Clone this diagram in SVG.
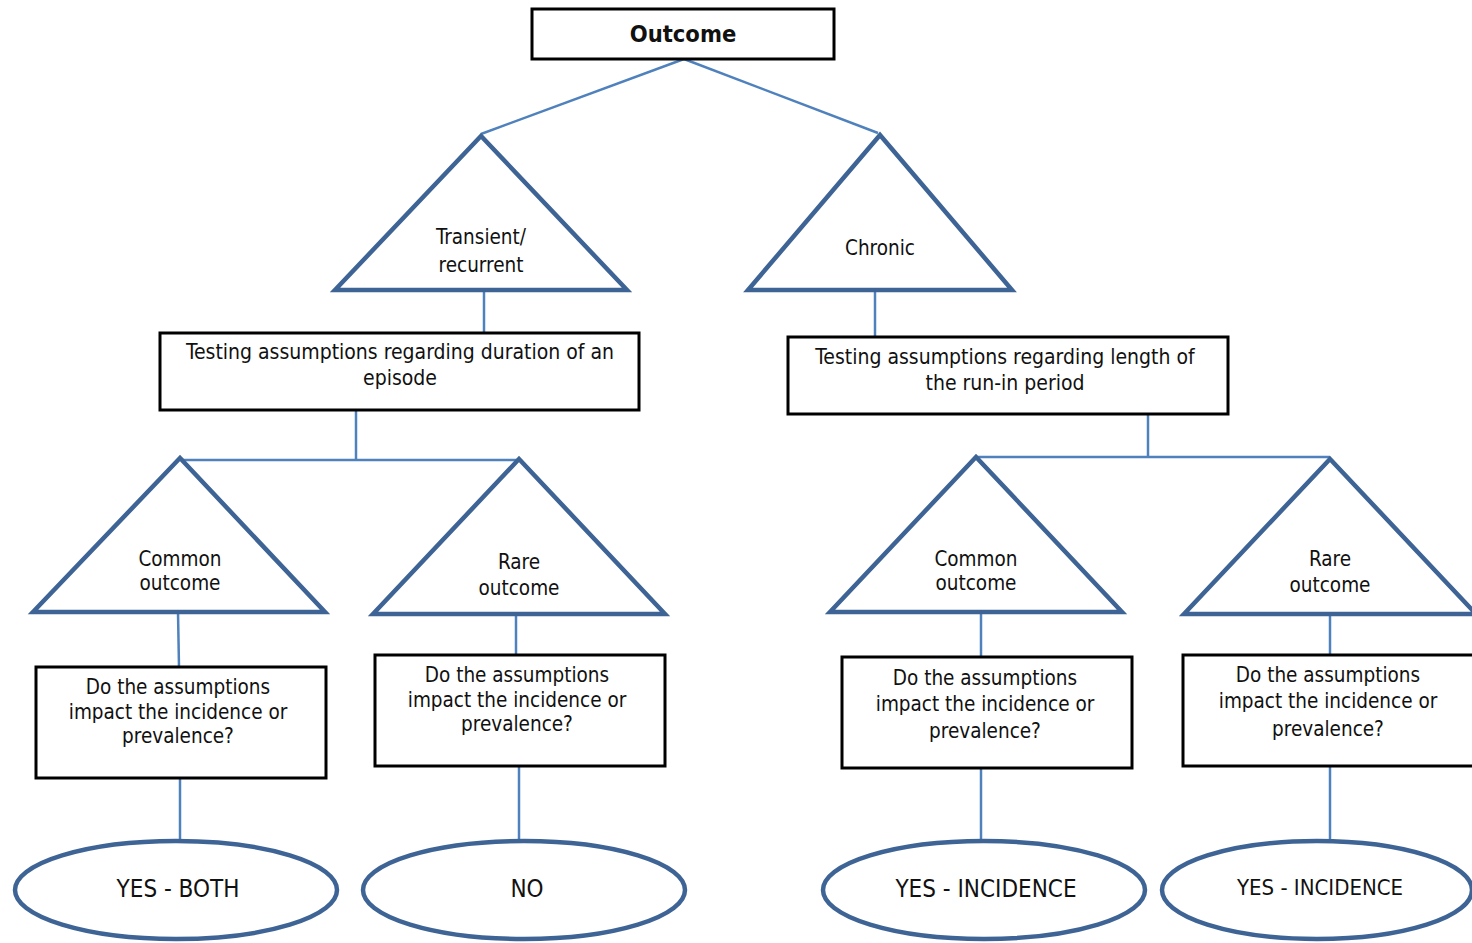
<svg xmlns="http://www.w3.org/2000/svg" width="1472" height="943" viewBox="0 0 1472 943">
<style>
.bg{fill:#ffffff}
.box{fill:#ffffff;stroke:#000000;stroke-width:3}
.tri{fill:#ffffff;stroke:#3e6496;stroke-width:4.5;stroke-linejoin:miter}
.ell{fill:#ffffff;stroke:#3e6496;stroke-width:4.5}
.con{fill:none;stroke:#4f81bd;stroke-width:2.5}
text{font-family:"DejaVu Sans Condensed","DejaVu Sans",sans-serif;font-size:20.5px;fill:#111111;text-anchor:middle}
.title{font-weight:bold;font-size:23.5px}
.wide{font-size:21px}
.big{font-size:24px}
.mid{font-size:22px}
</style>
<rect class="bg" x="0" y="0" width="1472" height="943"/>
<g id="connectors">
<path class="con" d="M684,59 L481,134"/>
<path class="con" d="M684,59 L878,133"/>
<path class="con" d="M484,290 L484,333"/>
<path class="con" d="M875,290 L875,337"/>
<path class="con" d="M356,410 L356,460"/>
<path class="con" d="M180,460 L519,460"/>
<path class="con" d="M1148,414 L1148,457"/>
<path class="con" d="M976,457 L1330,457"/>
<path class="con" d="M178,612 L179,667"/>
<path class="con" d="M516,614 L516,655"/>
<path class="con" d="M981,612 L981,657"/>
<path class="con" d="M1330,614 L1330,655"/>
<path class="con" d="M180,778 L180,840"/>
<path class="con" d="M519,766 L519,841"/>
<path class="con" d="M981,768 L981,841"/>
<path class="con" d="M1330,766 L1330,840"/>
</g>
<g id="outcome">
<rect class="box" x="532" y="9" width="302" height="50"/>
<text class="title" x="683" y="42">Outcome</text>
</g>
<g id="transient">
<polygon class="tri" points="481,136 335,290 627,290"/>
<text x="481" y="244">Transient/</text>
<text x="481" y="272">recurrent</text>
</g>
<g id="chronic">
<polygon class="tri" points="880,135 748,290 1012,290"/>
<text x="880" y="255">Chronic</text>
</g>
<g id="duration">
<rect class="box" x="160" y="333" width="479" height="77"/>
<text class="wide" x="400" y="359">Testing assumptions regarding duration of an</text>
<text class="wide" x="400" y="385">episode</text>
</g>
<g id="runin">
<rect class="box" x="788" y="337" width="440" height="77"/>
<text class="wide" x="1005" y="364">Testing assumptions regarding length of</text>
<text class="wide" x="1005" y="390">the run-in period</text>
</g>
<g id="common1">
<polygon class="tri" points="180,458 33,612 325,612"/>
<text x="180" y="566">Common</text>
<text x="180" y="590">outcome</text>
</g>
<g id="rare1">
<polygon class="tri" points="519,459 373,614 665,614"/>
<text x="519" y="569">Rare</text>
<text x="519" y="595">outcome</text>
</g>
<g id="common2">
<polygon class="tri" points="976,457 830,612 1122,612"/>
<text x="976" y="566">Common</text>
<text x="976" y="590">outcome</text>
</g>
<g id="rare2">
<polygon class="tri" points="1330,459 1184,614 1476,614"/>
<text x="1330" y="566">Rare</text>
<text x="1330" y="592">outcome</text>
</g>
<g id="q1">
<rect class="box" x="36" y="667" width="290" height="111"/>
<text x="178" y="694">Do the assumptions</text>
<text x="178" y="719">impact the incidence or</text>
<text x="178" y="743">prevalence?</text>
</g>
<g id="q2">
<rect class="box" x="375" y="655" width="290" height="111"/>
<text x="517" y="682">Do the assumptions</text>
<text x="517" y="707">impact the incidence or</text>
<text x="517" y="731">prevalence?</text>
</g>
<g id="q3">
<rect class="box" x="842" y="657" width="290" height="111"/>
<text x="985" y="685">Do the assumptions</text>
<text x="985" y="711">impact the incidence or</text>
<text x="985" y="738">prevalence?</text>
</g>
<g id="q4">
<rect class="box" x="1183" y="655" width="292" height="111"/>
<text x="1328" y="682">Do the assumptions</text>
<text x="1328" y="708">impact the incidence or</text>
<text x="1328" y="736">prevalence?</text>
</g>
<g id="yesboth">
<ellipse class="ell" cx="176" cy="890" rx="161" ry="49"/>
<text class="big" x="178" y="897">YES - BOTH</text>
</g>
<g id="no">
<ellipse class="ell" cx="524" cy="890" rx="161" ry="49"/>
<text class="big" x="527" y="897">NO</text>
</g>
<g id="yesinc1">
<ellipse class="ell" cx="984" cy="890" rx="161" ry="49"/>
<text class="big" x="986" y="897">YES - INCIDENCE</text>
</g>
<g id="yesinc2">
<ellipse class="ell" cx="1317" cy="890" rx="155" ry="49"/>
<text class="mid" x="1320" y="895">YES - INCIDENCE</text>
</g>
</svg>
